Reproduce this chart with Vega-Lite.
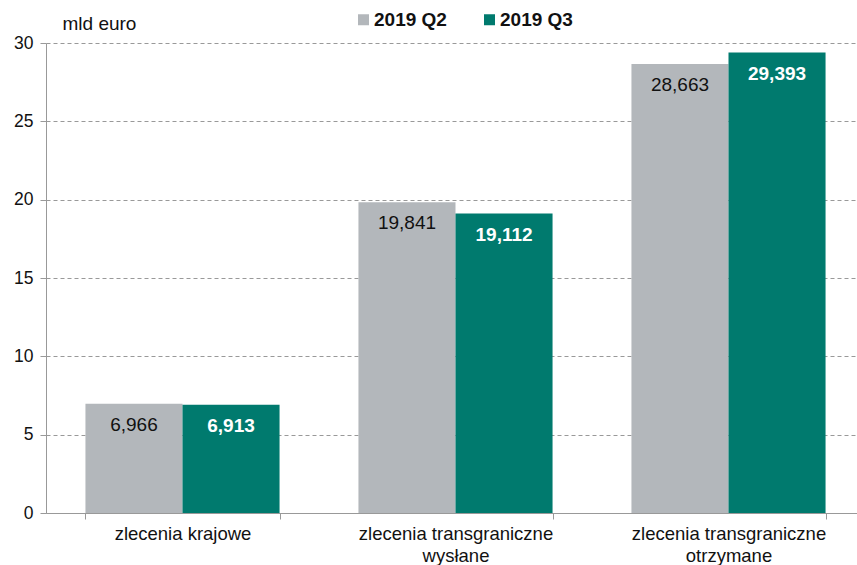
{
  "$schema": "https://vega.github.io/schema/vega-lite/v6.json",
  "width": 819,
  "height": 470,
  "autosize": "none",
  "padding": {"left": 46, "top": 43, "right": 0, "bottom": 52},
  "background": "white",
  "config": {
    "view": {"stroke": null},
    "font": "Liberation Sans",
    "locale": {"number": {"decimal": ",", "thousands": " ", "grouping": [3], "currency": ["", " €"]}}
  },
  "data": {
    "values": [
      {"kategoria": "zlecenia krajowe", "okres": "2019 Q2", "wartosc": 6.966},
      {"kategoria": "zlecenia krajowe", "okres": "2019 Q3", "wartosc": 6.913},
      {"kategoria": "zlecenia transgraniczne|wysłane", "okres": "2019 Q2", "wartosc": 19.841},
      {"kategoria": "zlecenia transgraniczne|wysłane", "okres": "2019 Q3", "wartosc": 19.112},
      {"kategoria": "zlecenia transgraniczne|otrzymane", "okres": "2019 Q2", "wartosc": 28.663},
      {"kategoria": "zlecenia transgraniczne|otrzymane", "okres": "2019 Q3", "wartosc": 29.393}
    ]
  },
  "encoding": {
    "x": {
      "field": "kategoria", "type": "nominal", "sort": null,
      "scale": {"paddingInner": 0.289, "paddingOuter": 0.1445},
      "axis": {
        "title": null, "labelAngle": 0, "labelFontSize": 18.5, "labelColor": "#111",
        "labelExpr": "split(datum.label, '|')", "labelLineHeight": 22, "labelPadding": 5,
        "labelLimit": 0,
        "tickBand": "extent", "tickSize": 6, "tickColor": "#999", "domainColor": "#999",
        "labelBaseline": "top"
      }
    },
    "xOffset": {"field": "okres", "type": "nominal", "scale": {"paddingInner": 0, "paddingOuter": 0}},
    "y": {
      "field": "wartosc", "type": "quantitative",
      "scale": {"domain": [0, 30]},
      "axis": {
        "values": [0, 5, 10, 15, 20, 25, 30], "format": "d",
        "title": "mld euro", "titleAngle": 0, "titleX": 16, "titleY": -20,
        "titleAlign": "left", "titleBaseline": "middle", "titleFontSize": 19, "titleFontWeight": "normal", "titleColor": "#111",
        "labelFontSize": 17.5, "labelColor": "#111", "labelPadding": 7,
        "tickSize": 6, "tickColor": "#999", "domainColor": "#999",
        "grid": true, "gridColor": "#999", "gridDash": [4, 3], "gridWidth": 1
      }
    }
  },
  "layer": [
    {
      "mark": {"type": "bar"},
      "encoding": {
        "color": {
          "field": "okres", "type": "nominal",
          "scale": {"domain": ["2019 Q2", "2019 Q3"], "range": ["#B3B7BB", "#007A6E"]},
          "legend": {
            "title": null, "orient": "none", "direction": "horizontal",
            "legendX": 308, "legendY": -33,
            "symbolType": "square", "symbolSize": 121, "symbolStrokeWidth": 0,
            "labelFontSize": 19, "labelFontWeight": "bold", "labelColor": "#111",
            "columnPadding": 33, "labelOffset": 1
          }
        }
      }
    },
    {
      "transform": [{"filter": "datum.okres == '2019 Q2'"}],
      "mark": {"type": "text", "dy": 21, "fontSize": 19, "color": "#111", "baseline": "middle"},
      "encoding": {"text": {"field": "wartosc", "type": "quantitative", "format": ".3f"}}
    },
    {
      "transform": [{"filter": "datum.okres == '2019 Q3'"}],
      "mark": {"type": "text", "dy": 21, "fontSize": 19, "fontWeight": "bold", "color": "white", "baseline": "middle"},
      "encoding": {"text": {"field": "wartosc", "type": "quantitative", "format": ".3f"}}
    }
  ]
}
